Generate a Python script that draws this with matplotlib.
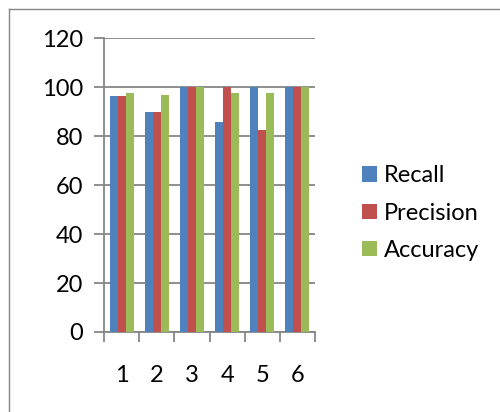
import matplotlib
matplotlib.use("Agg")
import matplotlib.pyplot as plt
from matplotlib.lines import Line2D
from matplotlib.patches import Patch
import numpy as np

categories = ["1", "2", "3", "4", "5", "6"]
recall = [96.3, 90.0, 100, 85.7, 100, 100]
precision = [96.3, 90.0, 100, 100, 82.5, 100]
accuracy = [97.8, 96.7, 100, 97.8, 97.8, 100]
series_names = ["Recall", "Precision", "Accuracy"]
colors = ["#4F81BD", "#C0504D", "#9BBB59"]

plt.rcParams['font.family'] = ['Lato', 'DejaVu Sans']
W, H = 500, 412
fig = plt.figure(figsize=(W/100, H/100), dpi=100)

# outer frame (top and left edges visible)
grey = "#868686"
fig.add_artist(Line2D([9/W, 1], [1 - 9/H, 1 - 9/H], color=grey, lw=1.0, transform=fig.transFigure))
fig.add_artist(Line2D([9/W, 9/W], [0, 1 - 9/H], color=grey, lw=1.0, transform=fig.transFigure))

left, right, top, bottom = 104, 315, 38.3, 332
ax = fig.add_axes([left/W, 1 - bottom/H, (right-left)/W, (bottom-top)/H])

x = np.arange(1, len(categories) + 1)
bw = 0.227
for i, (vals, c) in enumerate(zip([recall, precision, accuracy], colors)):
    ax.bar(x + (i - 1) * bw, vals, width=bw, color=c, zorder=3, label=series_names[i])

fs = 17
ax.set_xlim(0.5, 6.5)
ax.set_ylim(0, 120)
ax.set_yticks(range(0, 121, 20))
ax.yaxis.grid(True, color=grey, lw=1.3, zorder=0)
ax.set_xticks(np.arange(0.5, 6.6, 1))
ax.set_xticklabels([])
ax.set_xticks(x, minor=True)
ax.set_xticklabels(categories, minor=True)
ax.tick_params(axis='x', which='major', length=7, width=1.3, color=grey, direction='out')
ax.tick_params(axis='x', which='minor', length=0, pad=24, labelsize=fs)
ax.tick_params(axis='y', length=7, width=1.3, color=grey, labelsize=fs, pad=8)
for s in ['top', 'right']:
    ax.spines[s].set_visible(False)
for s in ['left', 'bottom']:
    ax.spines[s].set_color(grey)
    ax.spines[s].set_linewidth(1.3)

handles = [Patch(facecolor=c, edgecolor='none') for c in colors]
fig.legend(handles, series_names, loc='center left', bbox_to_anchor=(362/W, 1 - 213/H),
           frameon=False, fontsize=fs, handlelength=0.62, handleheight=0.62,
           handletextpad=0.3, labelspacing=0.68, borderpad=0, borderaxespad=0)

fig.savefig("out.png", dpi=100)
